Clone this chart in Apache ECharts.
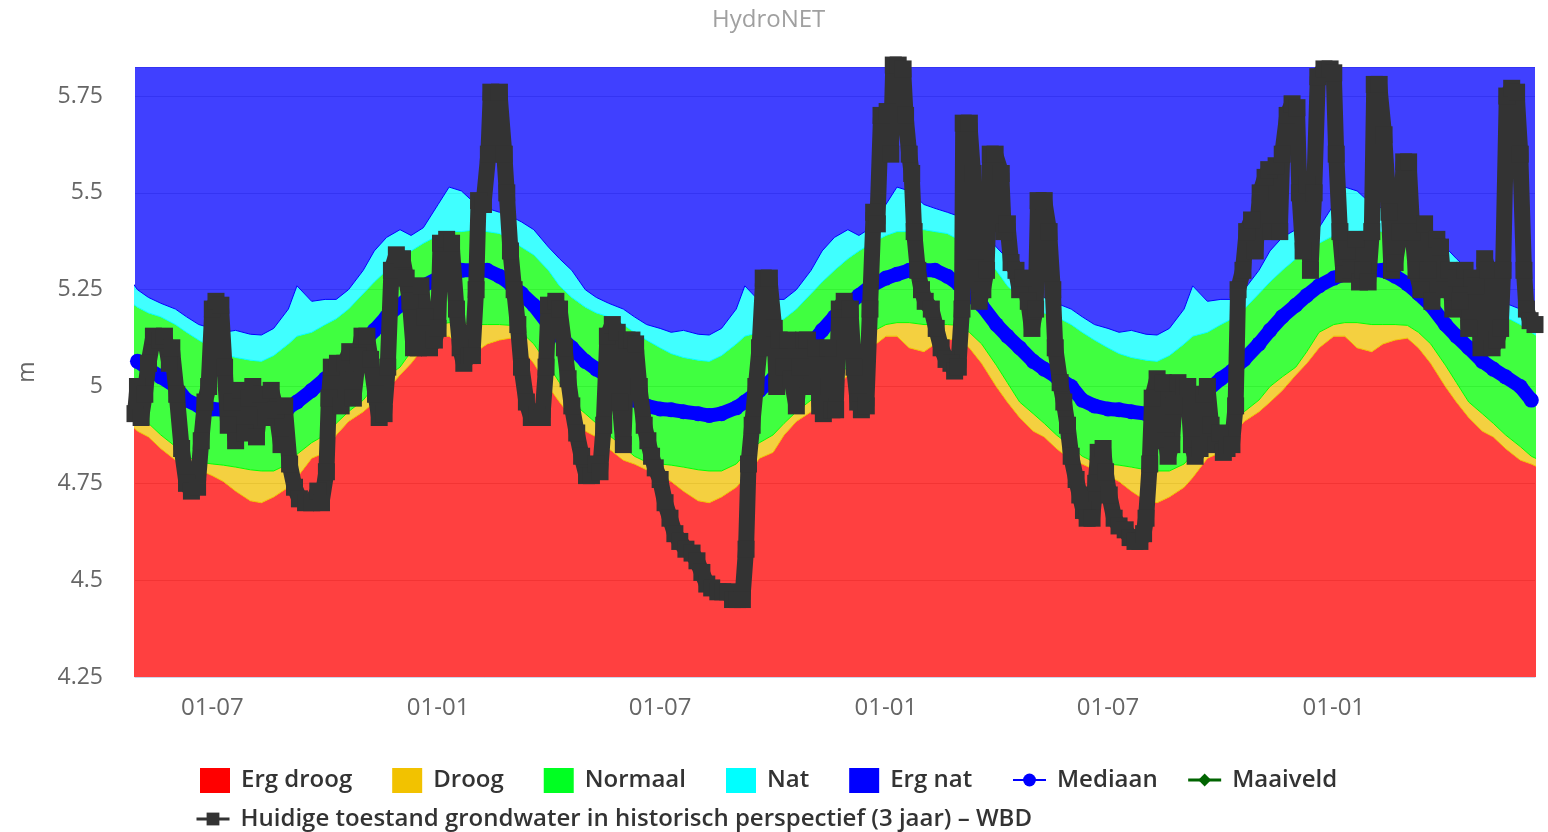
<!DOCTYPE html>
<html>
<head>
<meta charset="utf-8">
<title>HydroNET</title>
<script src="https://cdn.jsdelivr.net/npm/echarts@6/dist/echarts.min.js"></script>
<style>
  html, body { margin: 0; padding: 0; background: #fff; }
  #chart { width: 1548px; height: 832px; }
</style>
</head>
<body>
<div id="chart"></div>
<script>
// historical bands, one value per day of the year (same every year)
var bandDays = ['01-01','01-10','01-20','02-01','02-10','02-20','03-01','03-10','03-20','04-01','04-10','04-20',
                '05-01','05-10','05-20','06-01','06-10','06-20','07-01','07-10','07-20','08-01','08-10','08-20',
                '09-01','09-08','09-20','10-01','10-10','10-20','11-01','11-10','11-20','12-01','12-10','12-20'];
var ergDroogTop = [5.13,5.13,5.10,5.09,5.11,5.12,5.125,5.10,5.06,5.00,4.96,4.92,
                   4.885,4.87,4.84,4.81,4.80,4.785,4.77,4.755,4.73,4.705,4.70,4.715,
                   4.74,4.765,4.815,4.83,4.875,4.91,4.935,4.96,4.99,5.03,5.06,5.10];
var droogTop = [5.16,5.165,5.165,5.16,5.16,5.16,5.158,5.14,5.11,5.055,5.01,4.96,
                4.93,4.905,4.875,4.845,4.82,4.805,4.80,4.797,4.792,4.785,4.782,4.782,
                4.80,4.825,4.855,4.875,4.905,4.935,4.965,5.00,5.025,5.05,5.09,5.14];
var normaalTop = [5.39,5.40,5.40,5.405,5.40,5.395,5.38,5.36,5.34,5.30,5.26,5.23,
                  5.205,5.19,5.18,5.16,5.14,5.12,5.10,5.085,5.075,5.068,5.065,5.08,
                  5.11,5.13,5.14,5.16,5.175,5.20,5.24,5.27,5.30,5.33,5.35,5.37];
var natTop = [5.47,5.515,5.505,5.47,5.46,5.45,5.44,5.425,5.405,5.36,5.33,5.30,
              5.25,5.23,5.215,5.20,5.18,5.16,5.15,5.14,5.145,5.135,5.133,5.15,
              5.20,5.26,5.22,5.225,5.225,5.25,5.30,5.35,5.385,5.405,5.39,5.41];
var mediaan = [5.28,5.29,5.30,5.30,5.30,5.285,5.265,5.24,5.21,5.16,5.13,5.10,
               5.065,5.045,5.025,5.00,4.965,4.95,4.942,4.94,4.935,4.93,4.925,4.93,
               4.945,4.96,4.99,5.02,5.04,5.07,5.11,5.145,5.18,5.21,5.235,5.26];
var ergNatTop = 5.825;   // blue band runs to the top of the plot

// measured groundwater level: [days after 2021-04-29, m]
var grondwater = [
  [0,4.93],[2,5.00],[5,4.92],[8,4.98],[11,5.06],[15,5.13],[20,5.12],[24,5.13],[28,5.06],[30,5.10],
  [34,4.98],[38,4.84],[42,4.75],[46,4.73],[51,4.74],[54,4.86],[57,4.96],[60,5.00],[63,5.20],[66,5.22],
  [70,5.21],[73,5.05],[76,4.90],[79,4.96],[82,4.86],[86,4.99],[90,4.88],[93,4.97],[96,5.00],[99,4.87],
  [103,4.98],[107,4.92],[111,4.99],[115,4.94],[119,4.85],[122,4.95],[126,4.80],[130,4.74],[134,4.71],[139,4.70],
  [144,4.70],[149,4.73],[152,4.70],[156,4.78],[158,4.97],[160,5.05],[165,5.06],[168,4.95],[171,5.06],[175,5.09],
  [178,4.97],[182,5.08],[185,5.13],[189,5.13],[192,5.07],[196,4.98],[199,4.92],[203,4.93],[206,5.05],[209,5.30],
  [213,5.34],[218,5.33],[221,5.28],[224,5.22],[227,5.10],[231,5.10],[233,5.26],[236,5.18],[240,5.10],[244,5.12],
  [247,5.15],[249,5.37],[254,5.38],[258,5.37],[262,5.20],[265,5.10],[268,5.06],[272,5.08],[275,5.08],[278,5.25],
  [280,5.48],[284,5.47],[288,5.60],[290,5.76],[297,5.76],[301,5.60],[303,5.50],[306,5.35],[309,5.25],[312,5.16],
  [315,5.05],[319,4.96],[323,4.92],[328,4.93],[332,4.92],[335,5.05],[337,5.21],[343,5.22],[346,5.20],[350,5.10],
  [353,5.02],[356,4.95],[360,4.88],[364,4.82],[368,4.77],[372,4.77],[376,4.80],[379,4.78],[382,4.90],[385,5.13],
  [389,5.16],[393,5.14],[395,4.96],[398,4.85],[401,5.12],[405,5.12],[408,5.11],[411,5.00],[415,4.90],[418,4.86],
  [421,4.82],[424,4.79],[428,4.76],[432,4.70],[436,4.66],[440,4.62],[444,4.60],[449,4.58],[454,4.57],[458,4.55],
  [462,4.52],[466,4.49],[470,4.48],[475,4.47],[479,4.47],[483,4.47],[487,4.45],[491,4.45],[495,4.45],[498,4.58],
  [500,4.80],[503,4.90],[506,5.00],[509,5.10],[512,5.28],[517,5.28],[521,5.15],[523,5.00],[525,5.12],[529,5.05],
  [532,5.12],[535,5.02],[539,4.95],[542,5.05],[545,5.12],[548,5.12],[552,5.00],[555,5.10],[558,4.95],[561,4.93],
  [565,5.10],[568,4.94],[571,4.94],[574,5.20],[578,5.22],[583,5.20],[586,5.05],[589,4.96],[592,4.94],[596,4.95],
  [599,5.20],[602,5.45],[605,5.42],[608,5.70],[613,5.71],[616,5.60],[618,5.83],[622,5.83],[626,5.82],[628,5.70],
  [631,5.60],[633,5.55],[635,5.40],[638,5.30],[641,5.25],[644,5.22],[649,5.20],[653,5.15],[657,5.10],[661,5.07],
  [665,5.06],[668,5.04],[671,5.05],[674,5.20],[675,5.68],[680,5.68],[683,5.55],[685,5.35],[688,5.22],[691,5.25],
  [694,5.30],[697,5.60],[701,5.60],[706,5.55],[708,5.40],[711,5.42],[714,5.32],[718,5.30],[721,5.25],[724,5.28],
  [728,5.22],[731,5.15],[734,5.20],[736,5.48],[741,5.48],[745,5.40],[748,5.25],[750,5.10],[754,5.01],[757,4.96],
  [760,4.90],[763,4.82],[767,4.76],[770,4.72],[773,4.68],[776,4.66],[780,4.66],[783,4.75],[785,4.83],[789,4.84],
  [791,4.78],[794,4.72],[798,4.66],[802,4.64],[807,4.63],[811,4.61],[815,4.60],[819,4.60],[822,4.62],[824,4.66],
  [827,4.80],[829,4.97],[833,5.02],[838,5.01],[840,4.86],[842,4.82],[845,4.85],[847,4.95],[850,5.01],[855,5.00],
  [858,5.00],[861,4.85],[864,4.82],[868,4.84],[871,4.98],[874,5.00],[877,4.90],[881,4.85],[884,4.88],[887,4.83],
  [890,4.84],[894,4.85],[897,4.95],[899,5.25],[903,5.30],[906,5.40],[910,5.43],[913,5.35],[917,5.50],[921,5.54],
  [924,5.56],[926,5.40],[930,5.57],[933,5.40],[935,5.60],[939,5.70],[943,5.73],[947,5.72],[949,5.50],[952,5.35],
  [955,5.52],[958,5.30],[961,5.50],[964,5.80],[969,5.82],[974,5.82],[977,5.81],[979,5.60],[982,5.40],[985,5.29],
  [988,5.35],[991,5.30],[995,5.38],[998,5.27],[1001,5.30],[1005,5.27],[1008,5.40],[1010,5.78],[1014,5.78],[1018,5.65],
  [1022,5.45],[1024,5.30],[1027,5.32],[1031,5.40],[1034,5.58],[1038,5.58],[1041,5.40],[1044,5.30],[1048,5.25],[1051,5.42],
  [1054,5.30],[1057,5.22],[1061,5.38],[1064,5.36],[1067,5.25],[1071,5.30],[1074,5.20],[1077,5.28],[1080,5.22],[1084,5.30],
  [1087,5.15],[1090,5.28],[1093,5.26],[1097,5.10],[1100,5.33],[1103,5.30],[1106,5.10],[1110,5.12],[1113,5.15],[1115,5.30],
  [1118,5.75],[1122,5.77],[1126,5.76],[1129,5.60],[1132,5.30],[1134,5.20],[1137,5.17],[1141,5.16]
];

var years = [2021, 2022, 2023, 2024];
var startTime = new Date(2021, 3, 29).getTime();
var endTime = new Date(2024, 5, 13).getTime();
var gwName = 'Huidige toestand grondwater in historisch perspectief (3 jaar) \u2013 WBD';
var font = "'Open Sans', sans-serif";

// repeat a day-of-year profile over every year shown
function yearly(values) {
  var out = [];
  years.forEach(function (y) {
    bandDays.forEach(function (md, i) {
      var p = md.split('-');
      out.push([new Date(y, +p[0] - 1, +p[1]).getTime(), values[i]]);
    });
  });
  return out;
}
function diff(upper, lower) {
  return upper.map(function (v, i) {
    return +(v - (Array.isArray(lower) ? lower[i] : lower)).toFixed(4);
  });
}
var natTopArr = natTop.map(function () { return ergNatTop; });

function band(name, values, color, edgeColor) {
  return {
    name: name,
    type: 'line',
    stack: 'bands',
    data: yearly(values),
    symbol: 'none',
    silent: true,
    z: 1,
    itemStyle: { color: color },
    lineStyle: { width: edgeColor ? 1 : 0, color: edgeColor || color, opacity: edgeColor ? 1 : 0 },
    areaStyle: { color: color, opacity: 0.75 }
  };
}

var mediaanData = yearly(mediaan).filter(function (p) {
  return p[0] >= startTime && p[0] <= endTime;
});
var gwData = grondwater.map(function (p) {
  return [new Date(2021, 3, 29 + p[0]).getTime(), p[1]];
});

var legendText = { fontFamily: font, fontSize: 24, fontWeight: 600, color: '#333', padding: [0, 0, 0, 6] };

var chart = echarts.init(document.getElementById('chart'));
var option = {
  animation: false,
  backgroundColor: '#ffffff',
  textStyle: { fontFamily: font },
  title: {
    text: 'HydroNET',
    left: 707,
    top: 3,
    textStyle: { fontFamily: font, fontSize: 24, fontWeight: 'normal', color: '#a0a0a0' }
  },
  grid: { left: 135, right: 13, top: 67, bottom: 155, containLabel: false },
  legend: [{
    left: 195,
    top: 763,
    itemWidth: 30,
    itemHeight: 25,
    itemGap: 40,
    textStyle: legendText,
    data: [
      { name: 'Erg droog', icon: 'rect', itemStyle: { color: '#ff0000' } },
      { name: 'Droog', icon: 'rect', itemStyle: { color: '#f2c200' } },
      { name: 'Normaal', icon: 'rect', itemStyle: { color: '#00ff22' } },
      { name: 'Nat', icon: 'rect', itemStyle: { color: '#00ffff' } },
      { name: 'Erg nat', icon: 'rect', itemStyle: { color: '#0000ff' } }
    ]
  }, {
    left: 1007,
    top: 763,
    itemWidth: 33,
    itemHeight: 16,
    itemGap: 29,
    textStyle: legendText,
    data: [
      { name: 'Mediaan', lineStyle: { width: 2 } },
      { name: 'Maaiveld', lineStyle: { width: 3 } }
    ]
  }, {
    left: 190,
    top: 802,
    itemWidth: 33,
    itemHeight: 16,
    textStyle: legendText,
    data: [{ name: gwName, lineStyle: { width: 3 } }]
  }],
  xAxis: {
    type: 'time',
    min: startTime,
    max: endTime,
    minInterval: 183 * 86400000,
    maxInterval: 183 * 86400000,
    axisLine: { lineStyle: { color: '#ccd6eb', width: 1 } },
    axisTick: { show: false },
    splitLine: { show: false },
    axisLabel: {
      fontSize: 24,
      color: '#666',
      margin: 19,
      formatter: function (value) {
        var d = new Date(value);
        if (d.getDate() !== 1 || (d.getMonth() !== 0 && d.getMonth() !== 6)) return '';
        return '01-' + (d.getMonth() === 0 ? '01' : '07');
      }
    }
  },
  yAxis: {
    type: 'value',
    min: 4.25,
    max: ergNatTop,
    interval: 0.25,
    name: 'm',
    nameLocation: 'middle',
    nameGap: 96,
    nameTextStyle: { fontSize: 23, color: '#666' },
    axisLine: { show: false },
    axisTick: { show: false },
    axisLabel: { fontSize: 23, color: '#666', margin: 32, showMaxLabel: false },
    splitLine: { lineStyle: { color: '#d0d0d0', width: 1 } }
  },
  series: [
    band('Erg droog', ergDroogTop, '#ff0000', '#f2c200'),
    band('Droog', diff(droogTop, ergDroogTop), '#f0c000', '#00ff00'),
    band('Normaal', diff(normaalTop, droogTop), '#00ff00', '#00ffff'),
    band('Nat', diff(natTop, normaalTop), '#00ffff', '#0000ff'),
    band('Erg nat', diff(natTopArr, natTop), '#0000ff', null),
    {
      name: 'Mediaan',
      type: 'line',
      data: mediaanData,
      symbol: 'circle',
      symbolSize: 15,
      z: 3,
      itemStyle: { color: '#0000ff' },
      lineStyle: { width: 14, color: '#0000ff' }
    },
    {
      name: 'Maaiveld',
      type: 'line',
      data: [],
      symbol: 'diamond',
      itemStyle: { color: '#006400' },
      lineStyle: { width: 3, color: '#006400' }
    },
    {
      name: gwName,
      type: 'line',
      data: gwData,
      symbol: 'rect',
      symbolSize: 17,
      clip: false,
      z: 4,
      itemStyle: { color: '#333333' },
      lineStyle: { width: 16, color: '#333333', join: 'bevel' }
    }
  ]
};
chart.setOption(option);
</script>
</body>
</html>
